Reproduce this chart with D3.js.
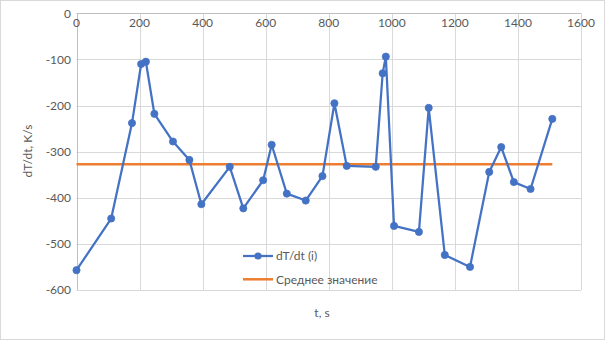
<!DOCTYPE html>
<html>
<head>
<meta charset="utf-8">
<script src="https://cdn.jsdelivr.net/npm/d3@7"></script>
<style>
  html, body { margin: 0; padding: 0; background: #fff; }
  svg { display: block; }
  text { font-family: Lato, "Open Sans", "Liberation Sans", sans-serif; fill: #595959; }
</style>
</head>
<body>
<svg id="chart" width="605" height="340"></svg>
<script>
// Time, s
const timeS = [0, 110, 176, 205, 220, 247, 306, 358, 396, 486, 529, 592, 619, 667, 727, 780,
               818, 857, 949, 971, 981, 1007, 1086, 1117, 1168, 1248, 1309, 1347, 1387, 1440, 1509];
// Cooling rate dT/dt, K/s
const rate = [-557, -445, -238, -110, -105, -218, -278, -318, -414, -333, -423, -362, -285, -391, -406, -353,
              -195, -331, -333, -130, -94, -461, -474, -205, -524, -550, -344, -290, -366, -381, -229];
// Mean value line (start and end)
const meanX = [0, 1509];
const meanY = [-327.5, -327.5];

const xTicks = [0, 200, 400, 600, 800, 1000, 1200, 1400, 1600];
const yTicks = [0, -100, -200, -300, -400, -500, -600];
const seriesNames = ["dT/dt (i)", "Среднее значение"];
const axisTitles = { x: "t, s", y: "dT/dt, K/s" };

const blue = "#4472C4", orange = "#ED7D31", grid = "#d9d9d9";

const svg = d3.select("#chart");
const plot = { left: 76.5, right: 581, top: 13.3, bottom: 290 };

const x = d3.scaleLinear().domain([0, 1600]).range([plot.left, plot.right]);
const y = d3.scaleLinear().domain([0, -600]).range([plot.top, plot.bottom]);

// outer chart border
svg.append("rect").attr("x", 0.5).attr("y", 0.5).attr("width", 604).attr("height", 339)
  .attr("fill", "none").attr("stroke", grid);

// gridlines
const g = svg.append("g");
g.selectAll(".hg").data(yTicks.filter(d => d !== 0)).join("line")
  .attr("x1", plot.left).attr("x2", plot.right)
  .attr("y1", d => Math.round(y(d)) + 0.5).attr("y2", d => Math.round(y(d)) + 0.5)
  .attr("stroke", grid).attr("stroke-width", 1);
g.selectAll(".vg").data(xTicks.filter(d => d !== 0)).join("line")
  .attr("y1", plot.top).attr("y2", plot.bottom)
  .attr("x1", d => Math.round(x(d)) + 0.5).attr("x2", d => Math.round(x(d)) + 0.5)
  .attr("stroke", grid).attr("stroke-width", 1);

// axis lines (x axis crosses at y = 0, at the top)
svg.append("line").attr("x1", plot.left).attr("x2", plot.right)
  .attr("y1", Math.round(y(0)) + 0.5).attr("y2", Math.round(y(0)) + 0.5)
  .attr("stroke", "#bfbfbf");
svg.append("line").attr("y1", plot.top).attr("y2", plot.bottom)
  .attr("x1", Math.round(x(0)) + 0.5).attr("x2", Math.round(x(0)) + 0.5)
  .attr("stroke", "#bfbfbf");

// tick labels
svg.append("g").selectAll("text").data(xTicks).join("text")
  .attr("x", d => x(d)).attr("y", 26.5)
  .attr("text-anchor", "middle").attr("font-size", 12)
  .text(d => d);
svg.append("g").selectAll("text").data(yTicks).join("text")
  .attr("x", 71).attr("y", d => y(d) + 4.3)
  .attr("text-anchor", "end").attr("font-size", 12)
  .text(d => d === 0 ? "0" : "-" + Math.abs(d));

// axis titles
svg.append("text").attr("x", 322).attr("y", 317).attr("text-anchor", "middle")
  .attr("font-size", 12).text(axisTitles.x);
svg.append("text").attr("transform", "translate(31.5,151) rotate(-90)")
  .attr("text-anchor", "middle").attr("font-size", 12).text(axisTitles.y);

// mean line
svg.append("path")
  .attr("d", d3.line().x(d => x(d[0])).y(d => y(d[1]))(meanX.map((v, i) => [v, meanY[i]])))
  .attr("fill", "none").attr("stroke", orange).attr("stroke-width", 2.5);

// data series
const pts = timeS.map((t, i) => [t, rate[i]]);
svg.append("path")
  .attr("d", d3.line().x(d => x(d[0])).y(d => y(d[1]))(pts))
  .attr("fill", "none").attr("stroke", blue).attr("stroke-width", 2.25)
  .attr("stroke-linejoin", "round");
svg.append("g").selectAll("circle").data(pts).join("circle")
  .attr("cx", d => x(d[0])).attr("cy", d => y(d[1])).attr("r", 3.6)
  .attr("fill", blue).attr("stroke", blue).attr("stroke-width", 0.75);

// legend
const leg = svg.append("g");
leg.append("line").attr("x1", 243).attr("x2", 273).attr("y1", 256).attr("y2", 256)
  .attr("stroke", blue).attr("stroke-width", 2.25);
leg.append("circle").attr("cx", 258).attr("cy", 256).attr("r", 3.6).attr("fill", blue);
leg.append("text").attr("x", 276).attr("y", 260.3).attr("font-size", 12).text(seriesNames[0]);
leg.append("line").attr("x1", 243).attr("x2", 273).attr("y1", 279.3).attr("y2", 279.3)
  .attr("stroke", orange).attr("stroke-width", 2.5);
leg.append("text").attr("x", 276).attr("y", 283.6).attr("font-size", 12).text(seriesNames[1]);
</script>
</body>
</html>
